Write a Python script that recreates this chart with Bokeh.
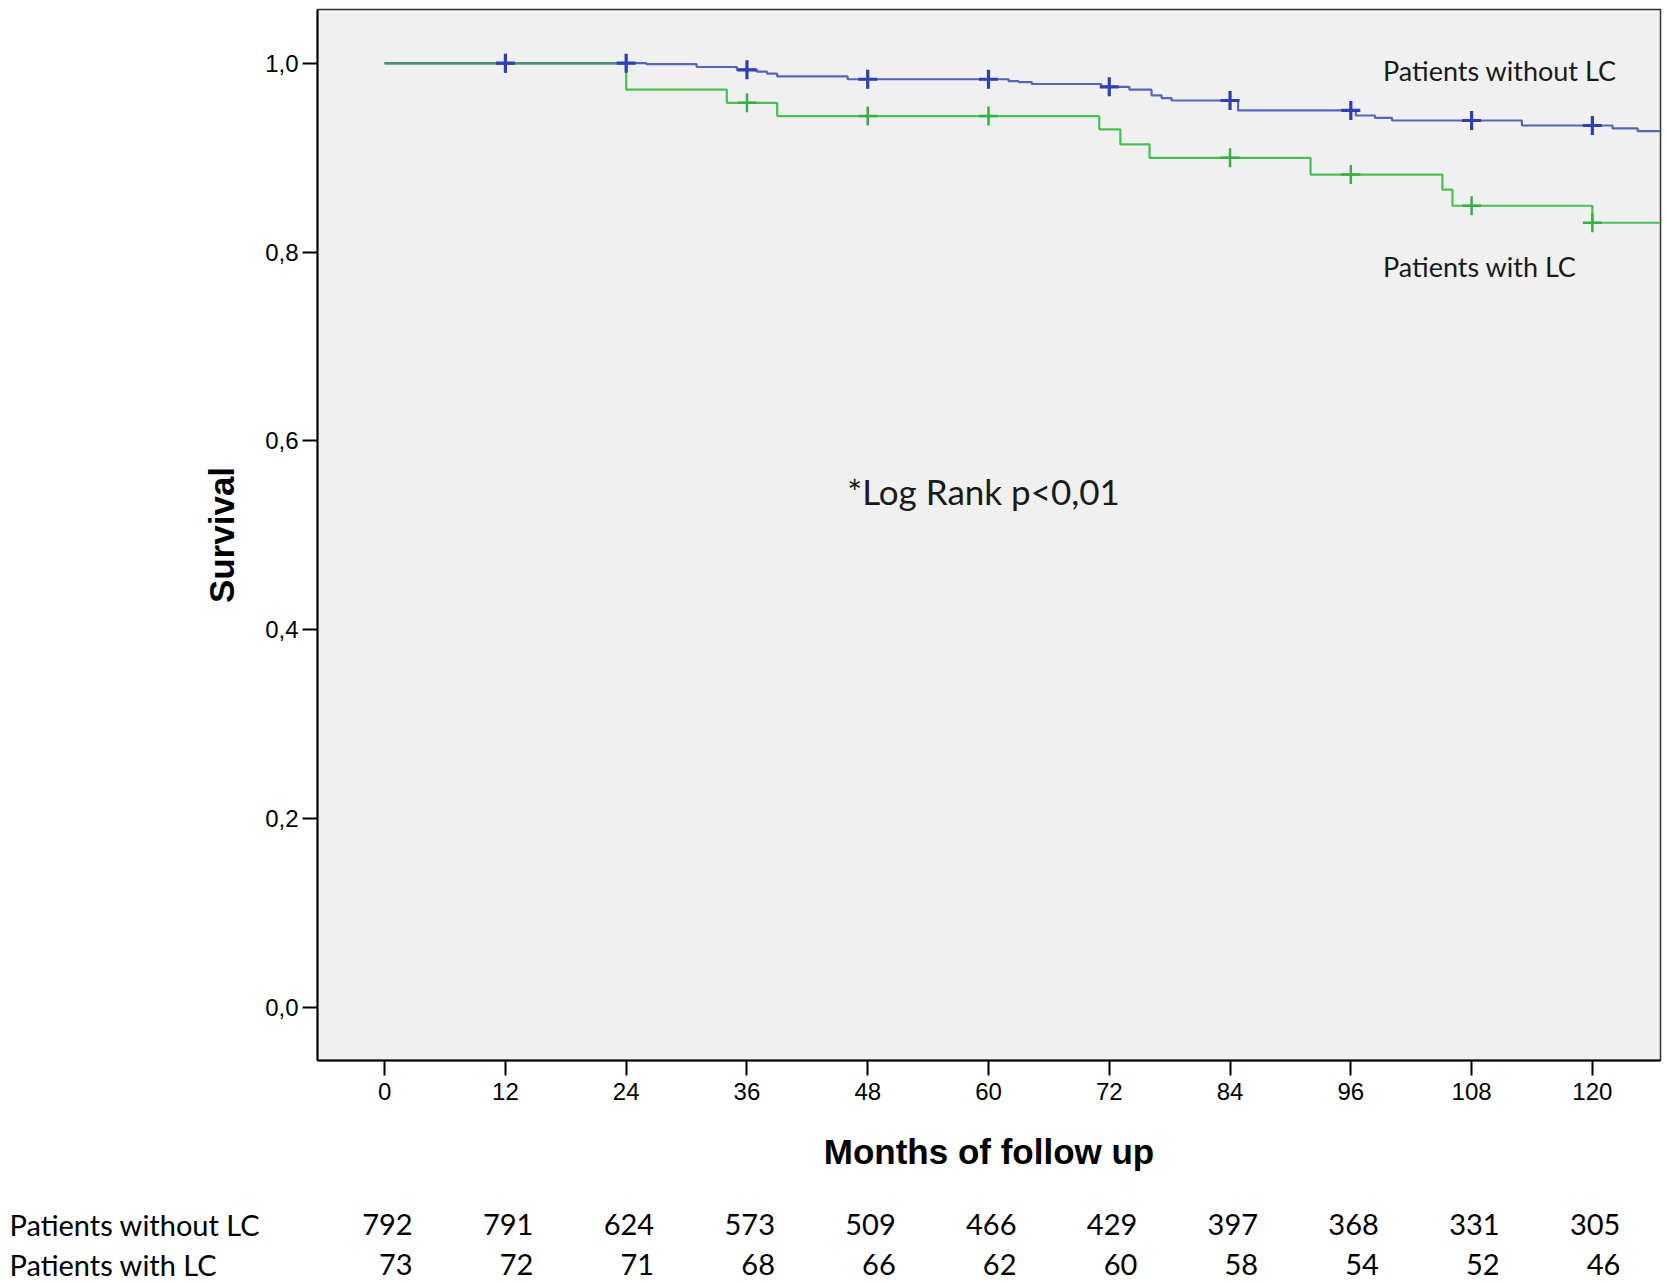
from bokeh.plotting import figure
from bokeh.models import FixedTicker, Label
from bokeh.layouts import column, row
from bokeh.core.properties import value
from bokeh.embed import file_html
from bokeh.resources import INLINE

# ---------------- data ----------------
month_ticks = [0, 12, 24, 36, 48, 60, 72, 84, 96, 108, 120]
surv_ticks = [0.0, 0.2, 0.4, 0.6, 0.8, 1.0]
surv_tick_labels = ["0,0", "0,2", "0,4", "0,6", "0,8", "1,0"]

# Kaplan-Meier step curves (time of step, survival after step)
without_lc_t = [0, 26, 31, 35, 37, 38, 39, 46, 62, 63, 64.3, 71.2, 74, 76.2, 77.2, 78.2,
                84.8, 96.5, 98.4, 100.1, 113, 122, 124.5]
without_lc_s = [1.0, 0.999, 0.996, 0.993, 0.991, 0.989, 0.986, 0.983, 0.981, 0.980, 0.978,
                0.975, 0.972, 0.966, 0.963, 0.9605, 0.950, 0.9446, 0.942, 0.9393, 0.934,
                0.931, 0.928]
with_lc_t = [0, 24, 34, 39, 71, 73.1, 76, 92, 105.1, 106.1, 120]
with_lc_s = [1.0, 0.972, 0.958, 0.944, 0.930, 0.914, 0.8998, 0.882, 0.866, 0.849, 0.831]

without_lc_censor = [12, 24, 36, 48, 60, 72, 84, 96, 108, 120]
with_lc_censor = [12, 36, 48, 60, 84, 96, 108, 120]

risk_labels = ["Patients without LC", "Patients with LC"]
risk_without_lc = [792, 791, 624, 573, 509, 466, 429, 397, 368, 331, 305]
risk_with_lc = [73, 72, 71, 68, 66, 62, 60, 58, 54, 52, 46]

# ---------------- helpers ----------------
def km_at(ts, ss, x):
    v = ss[0]
    for t, s in zip(ts, ss):
        if t <= x:
            v = s
    return v

X0, X1 = -6.67, 126.77
Y0, Y1 = -0.0565, 1.0569

W = 1665
FRAME_L, FRAME_R, FRAME_T, FRAME_B = 317, 1660, 9, 1060
H_MAIN = 1180
H_RISK = 100

BLUE = "#5466BC"
BLUE_D = "#2C3EB8"
GREEN = "#45C350"
GREEN_D = "#33B243"
OVERLAP = "#4F8C7A"

p = figure(width=W, height=H_MAIN, x_range=(X0, X1), y_range=(Y0, Y1),
           output_backend="svg", toolbar_location=None,
           min_border_left=FRAME_L, min_border_right=W - FRAME_R,
           min_border_top=FRAME_T, min_border_bottom=H_MAIN - FRAME_B)
p.background_fill_color = "#F0F0F0"
p.border_fill_color = "white"
p.outline_line_color = "#333333"
p.outline_line_width = 1.5
p.xgrid.visible = False
p.ygrid.visible = False

for ax in (p.xaxis[0], p.yaxis[0]):
    ax.axis_line_width = 2
    ax.axis_line_color = "black"
    ax.major_tick_line_width = 2
    ax.major_tick_line_color = "black"
    ax.major_tick_in = 0
    ax.major_tick_out = 15
    ax.minor_tick_line_color = None
    ax.major_label_text_font = "Liberation Sans"
    ax.major_label_text_font_size = "24px"
    ax.major_label_text_color = "black"
    ax.axis_label_text_font = "Liberation Sans"
    ax.axis_label_text_font_style = "bold"
    ax.axis_label_text_font_size = "35px"
    ax.axis_label_text_color = "black"

p.xaxis.ticker = FixedTicker(ticks=month_ticks)
p.xaxis.axis_label = "Months of follow up"
p.xaxis.major_label_standoff = 7
p.xaxis.axis_label_standoff = 29

p.yaxis.ticker = FixedTicker(ticks=surv_ticks)
p.yaxis.major_label_overrides = {t: l for t, l in zip(surv_ticks, surv_tick_labels)}
p.yaxis.axis_label = "Survival"
p.yaxis.major_label_standoff = 4
p.yaxis.axis_label_standoff = 21

# curves
bt = without_lc_t + [X1]
bs = without_lc_s + [without_lc_s[-1]]
gt = with_lc_t + [X1]
gs = with_lc_s + [with_lc_s[-1]]
p.step(bt, bs, mode="after", line_color=BLUE, line_width=2.2)
p.step(gt, gs, mode="after", line_color=GREEN, line_width=2.2)

# shared segment where both curves are still at their starting value
overlap_end = min(without_lc_t[1], with_lc_t[1])
p.line([without_lc_t[0], overlap_end], [without_lc_s[0], with_lc_s[0]],
       line_color=OVERLAP, line_width=2.4)

# censor marks
p.scatter(with_lc_censor, [km_at(with_lc_t, with_lc_s, c) for c in with_lc_censor],
          marker="cross", size=19, line_color=GREEN_D, line_width=2.5)
p.scatter(without_lc_censor, [km_at(without_lc_t, without_lc_s, c) for c in without_lc_censor],
          marker="cross", size=19, line_color=BLUE_D, line_width=3.2)

# annotations
ann_font = "Lato"
p.add_layout(Label(x=99.2, y=0.992, text="Patients without LC", text_font=ann_font,
                   text_font_size="27px", text_color="#1a1a1a", text_baseline="middle",
                   text_align="left"))
p.add_layout(Label(x=99.2, y=0.7846, text="Patients with LC", text_font=ann_font,
                   text_font_size="27px", text_color="#1a1a1a", text_baseline="middle",
                   text_align="left"))
p.add_layout(Label(x=45.97, y=0.5463, text="*Log Rank p<0,01", text_font=ann_font,
                   text_font_size="35px", text_color="#1a1a1a", text_baseline="middle",
                   text_align="left"))

# ---------------- number-at-risk table (same month scale, full width) ----------------
ppm = (FRAME_R - FRAME_L) / (X1 - X0)          # pixels per month in the chart
RX0 = X0 - FRAME_L / ppm
RX1 = X1 + (W - FRAME_R) / ppm
q = figure(width=W, height=H_RISK, x_range=(RX0, RX1), y_range=(H_RISK, 0),
           output_backend="svg", toolbar_location=None,
           min_border_left=0, min_border_right=0, min_border_top=0, min_border_bottom=0)
q.axis.visible = False
q.xgrid.visible = False
q.ygrid.visible = False
q.outline_line_color = None
q.background_fill_color = "white"
q.border_fill_color = "white"

row_y = [44, 84]
RISK_FONT = "29px"
label_x = RX0 + 9 / ppm
for lab, yy in zip(risk_labels, row_y):
    q.add_layout(Label(x=label_x, y=yy, text=lab, text_font=ann_font,
                       text_font_size=RISK_FONT, text_color="black",
                       text_baseline="middle", text_align="left"))
for counts, yy in zip([risk_without_lc, risk_with_lc], row_y):
    q.text(x=month_ticks, y=[yy] * len(month_ticks), text=[str(n) for n in counts],
           x_offset=28, text_font=value(ann_font), text_font_size=RISK_FONT,
           text_color="black", text_baseline="middle", text_align="right")

open("out.html", "w").write(file_html(column(p, row(q)), INLINE))
